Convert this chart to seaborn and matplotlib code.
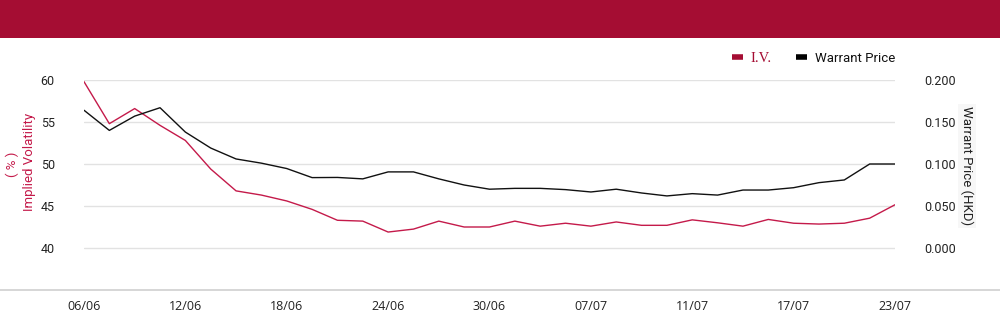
import matplotlib
matplotlib.use("Agg")
import matplotlib.pyplot as plt
from matplotlib.lines import Line2D
import seaborn as sns
import pandas as pd

dates = ["06/06", "09/06", "10/06", "11/06", "12/06", "13/06", "16/06", "17/06",
         "18/06", "19/06", "20/06", "23/06", "24/06", "25/06", "26/06", "27/06",
         "30/06", "02/07", "03/07", "04/07", "07/07", "08/07", "09/07", "10/07",
         "11/07", "14/07", "15/07", "16/07", "17/07", "18/07", "21/07", "22/07",
         "23/07"]
iv = [59.8, 54.8, 56.6, 54.6, 52.8, 49.4, 46.8, 46.3, 45.6, 44.6, 43.3, 43.2,
      41.9, 42.25, 43.2, 42.5, 42.5, 43.2, 42.6, 42.95, 42.6, 43.1, 42.7, 42.7,
      43.35, 43.0, 42.6, 43.4, 42.95, 42.85, 42.95, 43.55, 45.15]
price = [0.164, 0.140, 0.157, 0.167, 0.138, 0.119, 0.106, 0.101, 0.0946, 0.0838,
         0.084, 0.0823, 0.0906, 0.0906, 0.0823, 0.075, 0.070, 0.071, 0.071, 0.0695,
         0.0667, 0.070, 0.0655, 0.062, 0.0647, 0.063, 0.069, 0.069, 0.0718, 0.0778,
         0.081, 0.100, 0.100]
tick_idx = [0, 4, 8, 12, 16, 20, 24, 28, 32]
left_ticks = [40, 45, 50, 55, 60]
right_ticks = [0.0, 0.05, 0.10, 0.15, 0.20]

df = pd.DataFrame({"idx": range(len(dates)), "date": dates, "iv": iv, "price": price})

sns.set_theme(style="white")
plt.rcParams["font.family"] = ["Roboto", "DejaVu Sans"]

RED_LINE = "#C41A4A"
BAND = "#A50D33"
GRID = "#E2E2E2"

fig = plt.figure(figsize=(10, 3.24), dpi=100)
fig.patch.set_facecolor("white")

# top band
fig.add_artist(plt.Rectangle((0, 1 - 38 / 324), 1, 38 / 324, transform=fig.transFigure,
                             facecolor=BAND, edgecolor="none", zorder=0))
# bottom rule
fig.add_artist(Line2D([0, 1], [1 - 290 / 324] * 2, transform=fig.transFigure,
                      color="#CFCFCF", lw=1.2))

ax = fig.add_axes([84 / 1000, 1 - 290 / 324, (895 - 84) / 1000, (290 - 80) / 324])
ax2 = ax.twinx()

sns.lineplot(data=df, x="idx", y="iv", ax=ax, color=RED_LINE, lw=1.0, zorder=3)
sns.lineplot(data=df, x="idx", y="price", ax=ax2, color="#111111", lw=1.0, zorder=3)

ax.set_xlim(0, len(dates) - 1)
ax.set_ylim(35, 60)
ax2.set_ylim(-0.05, 0.20)

ax.set_yticks(left_ticks)
ax.set_yticklabels([str(t) for t in left_ticks], fontsize=9, color="#222222")
ax2.set_yticks(right_ticks)
ax2.set_yticklabels([f"{t:.3f}" for t in right_ticks], fontsize=9, color="#222222")
ax.set_xticks(tick_idx)
ax.set_xticklabels([dates[i] for i in tick_idx], fontsize=9, color="#222222",
                   family=["Open Sans", "DejaVu Sans"])

ax.grid(axis="y", color=GRID, lw=1.0)
ax.grid(axis="x", visible=False)
ax2.grid(False)
ax.set_axisbelow(True)
for a in (ax, ax2):
    for s in a.spines.values():
        s.set_visible(False)
    a.set_xlabel("")
    a.set_ylabel("")
    a.patch.set_alpha(0)
ax.tick_params(axis="y", length=0, pad=21)
ax2.tick_params(axis="y", length=0, pad=21)
ax.tick_params(axis="x", length=0, pad=7)

# axis titles
fig.text(30 / 1000, 1 - 162 / 324, "Implied Volatility", rotation=90, ha="center",
         va="center", fontsize=9.5, color=RED_LINE)
fig.text(12 / 1000, 1 - 164 / 324, "( % )", rotation=90, ha="center",
         va="center", fontsize=9.5, color=RED_LINE)
fig.text(967 / 1000, 1 - 166 / 324, "Warrant Price (HKD)", rotation=-90, ha="center",
         va="center", fontsize=9.5, color="#222222",
         bbox=dict(facecolor="#F7F7F7", edgecolor="none", pad=1.5))

# legend
handles = [Line2D([], [], color=BAND, lw=4, solid_capstyle="butt"),
           Line2D([], [], color="#000000", lw=4, solid_capstyle="butt")]
leg = fig.legend(handles, ["I.V.", "Warrant Price"], ncol=2, loc="center right",
                 bbox_to_anchor=(0.907, 1 - 58 / 324), frameon=False, fontsize=9.5,
                 handlelength=0.8, handletextpad=0.6, columnspacing=1.85)
t0, t1 = leg.get_texts()
t0.set_color(BAND)
t0.set_family(["Liberation Serif", "DejaVu Serif"])
t0.set_fontsize(10.5)
t1.set_color("#111111")

fig.savefig("out.png", dpi=100)
